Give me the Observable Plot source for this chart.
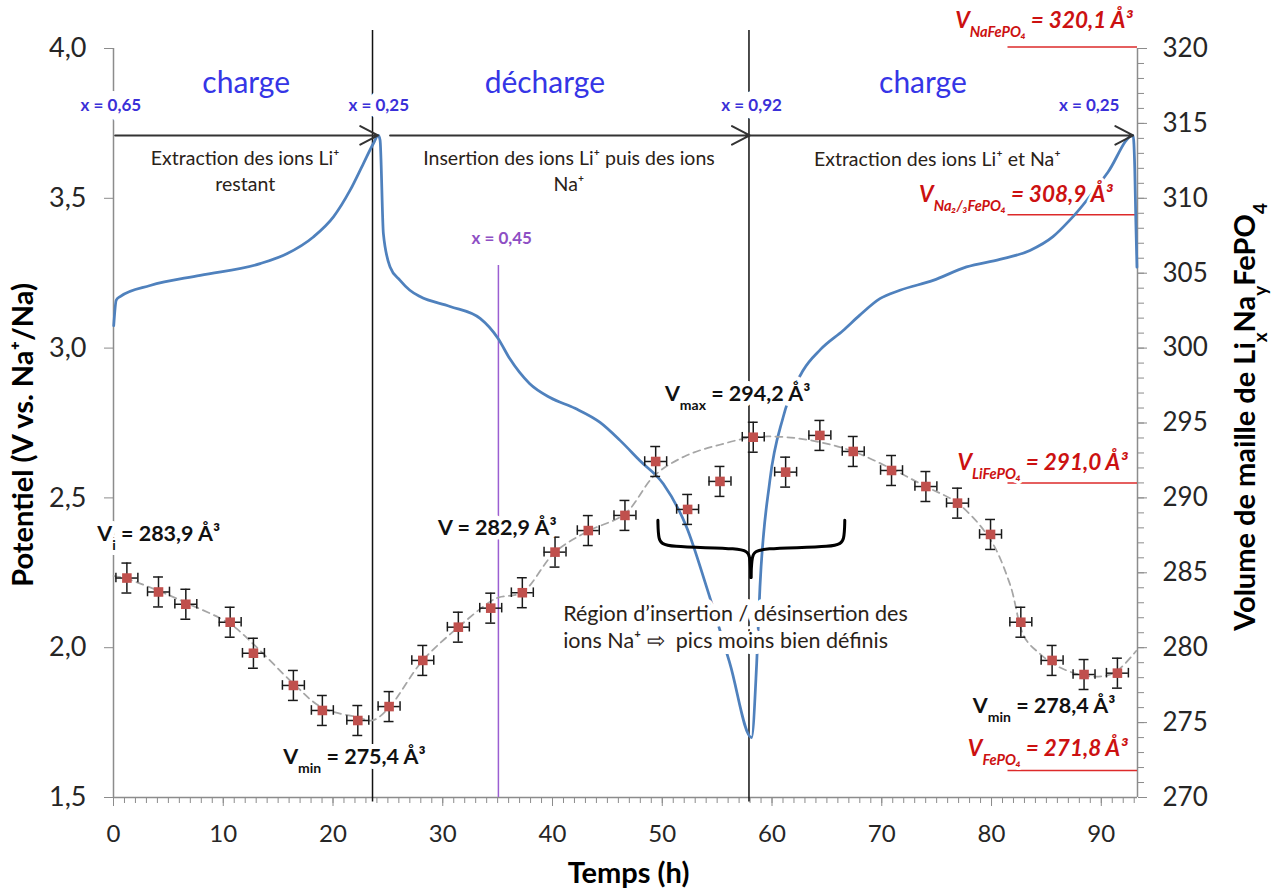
<!DOCTYPE html>
<html>
<head>
<meta charset="utf-8">
<script src="https://cdn.jsdelivr.net/npm/d3@7"></script>
<script src="https://cdn.jsdelivr.net/npm/@observablehq/plot@0.6"></script>
<style>
  body { margin: 0; background: #fff; }
  svg text { paint-order: stroke; stroke-linejoin: round; }
</style>
</head>
<body>
<div id="chart"></div>
<script>
// ---------------- data ----------------
// Galvanostatic potential curve (time in h, potential in V vs Na+/Na)
const potT = [0.02, 0.25, 0.6, 3.34, 7.9, 13.36, 15.79, 18.21, 20.04, 21.56, 22.77, 23.68, 24.13,
  24.29, 24.59, 25.2, 26.11, 27.0, 27.93, 30.66, 33.4, 35.04, 36.1, 37.9, 39.77, 42.05, 44.33, 46.15,
  47.97, 50.09, 52.22, 54.04, 56.17, 58.14, 58.6, 58.9, 59.8, 61.02, 62.84, 64.4, 66.48, 68.0, 69.83, 71.65,
  74.68, 77.72, 80.76, 83.5, 85.6, 87.13, 90.62, 92.9, 93.05, 93.15, 93.25];
const potP = [3.075, 3.16, 3.172, 3.209, 3.243, 3.282, 3.315, 3.371, 3.438, 3.527, 3.616, 3.683, 3.710,
  3.694, 3.382, 3.271, 3.226, 3.193, 3.172, 3.139, 3.099, 3.032, 2.965, 2.882, 2.835, 2.799, 2.752, 2.692,
  2.624, 2.547, 2.402, 2.202, 1.946, 1.70, 1.946, 2.202, 2.557, 2.770, 2.926, 2.995, 3.059, 3.11, 3.165, 3.193,
  3.226, 3.271, 3.296, 3.326, 3.372, 3.427, 3.588, 3.710, 3.60, 3.42, 3.27];

// Operando XRD cell volumes (time in h, volume in Å³)
const xrdT = [1.22, 4.1, 6.59, 10.63, 12.75, 16.39, 19.03, 22.26, 25.11, 28.18, 31.42, 34.37, 37.25,
  40.23, 43.26, 46.6, 49.4, 52.31, 55.26, 58.29, 61.24, 64.36, 67.4, 70.89, 74.02, 76.9, 79.91, 82.67,
  85.52, 88.43, 91.47];
const xrdV = [284.65, 283.72, 282.9, 281.7, 279.63, 277.48, 275.81, 275.14, 276.07, 279.15, 281.37,
  282.64, 283.67, 286.38, 287.82, 288.83, 292.43, 289.23, 291.1, 294.05, 291.72, 294.17, 293.1, 291.83,
  290.76, 289.65, 287.56, 281.7, 279.15, 278.21, 278.3];
const volErr = 1.0;   // Å³
const timeErr = 1.0;  // h

// Guide-to-the-eye (dashed) trend of the volume
const fitT = [0, 1.2, 4.1, 6.6, 10.6, 12.8, 16.4, 19.0, 22.3, 23.6, 25.1, 28.18, 31.42, 34.37, 35.15,
  37.25, 40.23, 43.3, 46.6, 49.3, 52.2, 55.25, 58.3, 61.3, 64.36, 67.4, 70.9, 74.0, 76.9, 79.85, 81.67,
  83.0, 84.4, 85.9, 88.4, 90.5, 91.5, 93.2];
const fitV = [284.8, 284.6, 283.8, 283.0, 281.6, 280.2, 277.6, 276.0, 275.35, 275.15, 276.0, 279.15,
  281.37, 283.1, 283.37, 283.7, 286.38, 287.8, 288.94, 291.5, 292.83, 293.55, 294.05, 294.05, 293.72,
  293.1, 291.94, 290.76, 289.65, 287.27, 284.26, 280.7, 279.6, 278.8, 278.14, 278.14, 278.48, 279.8];

// Reference volumes
const refVolumes = [320.1, 308.9, 291.0, 271.8];
const refLabels = ["V_{NaFePO₄} = 320,1 Å³", "V_{Na₂/₃FePO₄} = 308,9 Å³", "V_{LiFePO₄} = 291,0 Å³", "V_{FePO₄} = 271,8 Å³"];

// Ticks
const potTicks = [1.5, 2.0, 2.5, 3.0, 3.5, 4.0];
const volTicks = [270, 275, 280, 285, 290, 295, 300, 305, 310, 315, 320];
const volMinorTicks = d3.range(270, 321, 1);
const timeTicks = [0, 10, 20, 30, 40, 50, 60, 70, 80, 90];
const timeMinorTicks = d3.range(0, 94, 1);

// Step boundaries, marker and labels
const stepBounds = [23.6, 57.9];
const naMarker = [35.07];
const stepNames = ["charge", "décharge", "charge"];
const compLabels = ["x = 0,65", "x = 0,25", "x = 0,92", "x = 0,25"];
const processLabels = ["Extraction des ions Li⁺\nrestant", "Insertion des ions Li⁺ puis des ions\nNa⁺", "Extraction des ions Li⁺ et Na⁺"];
const valueLabels = ["V_{i} = 283,9 Å³", "V_{min} = 275,4 Å³", "V = 282,9 Å³", "V_{max} = 294,2 Å³", "V_{min} = 278,4 Å³"];
const regionLabel = "Région d’insertion / désinsertion des\nions Na⁺ ⇨  pics moins bien définis";

// ---------------- helpers / layout ----------------
const X_MAX = 93.3;
const toP = v => 1.5 + (v - 270) / 20;   // volume axis -> potential axis
const fromP = p => 270 + (p - 1.5) * 20;

const pot = potT.map((t, i) => ({t, p: potP[i]}));
const xrd = xrdT.map((t, i) => ({t, v: xrdV[i]}));
const fit = fitT.map((t, i) => ({t, v: fitV[i]}));
const refs = refVolumes.map((v, i) => ({v, label: refLabels[i]}));

const arrowY = 3.71;
const arrows = [{x1: 0.15, x2: 24.1}, {x1: 25.2, x2: 57.97}, {x1: 57.9, x2: 92.9}];
const stepPos = [{t: 12.09}, {t: 39.3}, {t: 73.75}].map((d, i) => ({...d, label: stepNames[i]}));
const compPos = [-0.24, 24.17, 58.14, 88.9].map((t, i) => ({t, label: compLabels[i]}));
const procPos = [[12.0, 3.594], [41.5, 3.594], [75.06, 3.637]].map(([t, p], i) => ({t, p, label: processLabels[i]}));
const valPos = [[-1.48, 2.378], [15.46, 1.636], [29.57, 2.40], [50.24, 2.847], [78.3, 1.805]].map(([t, p], i) => ({t, p, label: valueLabels[i]}));
const refPos = [[92.87, 4.092], [91.05, 3.512], [92.41, 2.616], [92.41, 1.664]].map(([t, p], i) => ({t, p, label: refLabels[i]}));
const braceL = [[49.6, 2.425], [49.64, 2.36], [50.1, 2.334], [57.6, 2.334], [58.0, 2.31], [58.08, 2.234]].map(([t, p]) => ({t, p}));
const braceR = [[66.63, 2.425], [66.59, 2.36], [66.1, 2.334], [58.6, 2.334], [58.16, 2.31], [58.08, 2.234]].map(([t, p]) => ({t, p}));

const AXIS = "#8c8c8c", TXT = "#262626", RED = "#cc1111";
const capT = 0.45, capP = 0.016;

const plot = Plot.plot({
  width: 1273, height: 895,
  marginLeft: 113, marginRight: 136, marginTop: 48, marginBottom: 98,
  x: {domain: [0, X_MAX], label: null},
  y: {domain: [1.5, 4.0], label: null},
  style: {fontFamily: "Lato, 'Open Sans', sans-serif", background: "#fff", overflow: "visible"},
  marks: [
    // axes
    Plot.axisY(potTicks, {anchor: "left", tickSize: 9, tickPadding: 18, fontSize: 27, stroke: AXIS, fill: TXT, label: null,
      tickFormat: d => d.toFixed(1).replace(".", ",")}),
    Plot.axisY(volMinorTicks.map(toP), {anchor: "right", tickSize: 6, stroke: AXIS, label: null, tickFormat: () => ""}),
    Plot.axisY(volTicks.map(toP), {anchor: "right", tickSize: 9, tickPadding: 16, fontSize: 26, stroke: AXIS, fill: TXT, label: null,
      tickFormat: p => String(Math.round(fromP(p)))}),
    Plot.axisX(timeMinorTicks, {tickSize: 6, stroke: AXIS, label: null, tickFormat: () => ""}),
    Plot.axisX(timeTicks, {tickSize: 9, tickPadding: 18, fontSize: 24, stroke: AXIS, fill: TXT, label: null}),
    Plot.ruleY([1.5], {x1: 0, x2: X_MAX, stroke: AXIS, strokeWidth: 1.5}),
    Plot.ruleX([0, X_MAX], {y1: 1.5, y2: 4.0, stroke: AXIS, strokeWidth: 1.5}),

    // step boundaries and marker
    Plot.ruleX(stepBounds, {y1: 1.485, y2: 4.06, stroke: "#111", strokeWidth: 1.5}),
    Plot.ruleX(naMarker, {y1: 1.5, y2: 3.276, stroke: "#9b5fd2", strokeWidth: 1.5}),

    // reference volumes
    Plot.ruleY(refs, {y: d => toP(d.v), x1: 81.5, x2: X_MAX, stroke: "#dd2a2a", strokeWidth: 1.5}),

    // potential curve
    Plot.line(pot, {x: "t", y: "p", stroke: "#4f81bd", strokeWidth: 2.75, curve: "monotone-x"}),

    // volume trend
    Plot.line(fit, {x: "t", y: d => toP(d.v), stroke: "#a6a6a6", strokeWidth: 1.75, strokeDasharray: "7,5", curve: "catmull-rom"}),

    // error bars
    Plot.ruleX(xrd, {x: "t", y1: d => toP(d.v - volErr), y2: d => toP(d.v + volErr), stroke: "#1a1a1a", strokeWidth: 1.5}),
    Plot.ruleY(xrd, {y: d => toP(d.v), x1: d => d.t - timeErr, x2: d => d.t + timeErr, stroke: "#1a1a1a", strokeWidth: 1.5}),
    Plot.ruleY(xrd, {y: d => toP(d.v + volErr), x1: d => d.t - capT, x2: d => d.t + capT, stroke: "#1a1a1a", strokeWidth: 1.5}),
    Plot.ruleY(xrd, {y: d => toP(d.v - volErr), x1: d => d.t - capT, x2: d => d.t + capT, stroke: "#1a1a1a", strokeWidth: 1.5}),
    Plot.ruleX(xrd, {x: d => d.t - timeErr, y1: d => toP(d.v) - capP, y2: d => toP(d.v) + capP, stroke: "#1a1a1a", strokeWidth: 1.5}),
    Plot.ruleX(xrd, {x: d => d.t + timeErr, y1: d => toP(d.v) - capP, y2: d => toP(d.v) + capP, stroke: "#1a1a1a", strokeWidth: 1.5}),
    Plot.dot(xrd, {x: "t", y: d => toP(d.v), symbol: "square", r: 5.4, fill: "#c0504d"}),

    // arrows
    Plot.arrow(arrows, {x1: "x1", x2: "x2", y1: arrowY, y2: arrowY, stroke: "#333", strokeWidth: 2, headLength: 15, headAngle: 55}),

    // brace
    Plot.line(braceL, {x: "t", y: "p", stroke: "#000", strokeWidth: 3, curve: "basis"}),
    Plot.line(braceR, {x: "t", y: "p", stroke: "#000", strokeWidth: 3, curve: "basis"}),

    // texts
    Plot.text(stepPos, {x: "t", y: 3.884, text: "label", fontSize: 30, fill: "#3535e6"}),
    Plot.text(compPos, {x: "t", y: 3.811, text: "label", fontSize: 17, fontWeight: "bold", fill: "#3a30d8", stroke: "#fff", strokeWidth: 16}),
    Plot.text(["x = 0,45"], {x: 35.37, y: 3.366, text: d => d, fontSize: 17, fontWeight: "bold", fill: "#8e4fc4"}),
    Plot.text(procPos, {x: "t", y: "p", text: "label", fontSize: 19.5, lineHeight: 1.33, fill: "#2a2218"}),
    Plot.text(valPos, {x: "t", y: "p", text: "label", textAnchor: "start", fontSize: 21.5, fontWeight: "bold", fill: "#111", stroke: "#fff", strokeWidth: 10}),
    Plot.text(refPos, {x: "t", y: "p", text: "label", textAnchor: "end", fontSize: 22.5, fontWeight: "bold", fontStyle: "italic", fill: RED, stroke: "#fff", strokeWidth: 6}),
    Plot.text([regionLabel], {x: 40.97, y: 2.072, text: d => d, textAnchor: "start", fontSize: 21.5, lineHeight: 1.25, fill: "#2a2218", stroke: "#fff", strokeWidth: 12}),

    // axis titles
    Plot.text(["Temps (h)"], {frameAnchor: "bottom", dx: 3, dy: 85, text: d => d, fontSize: 29, fontWeight: "bold", fill: "#000"}),
    Plot.text(["Potentiel (V vs. Na⁺/Na)"], {frameAnchor: "left", textAnchor: "middle", dx: -90, dy: 12, rotate: -90, text: d => d, fontSize: 29, fontWeight: "bold", fill: "#000"}),
    Plot.text(["Volume de maille de Li_{x}Na_{y}FePO_{4}"], {frameAnchor: "right", textAnchor: "middle", dx: 108, dy: -6, rotate: -90, text: d => d, fontSize: 29, fontWeight: "bold", fill: "#000"})
  ]
});

// Render simple sub/superscript markup (_{..} and ^{..}) as tspans
function richify(svg) {
  const NS = "http://www.w3.org/2000/svg";
  const mk = (s) => { const t = document.createElementNS(NS, "tspan"); t.textContent = s; return t; };
  svg.querySelectorAll("text").forEach(text => {
    const targets = text.querySelectorAll("tspan").length ? [...text.querySelectorAll("tspan")] : [text];
    targets.forEach(el => {
      const s = el.textContent;
      if (!/[_^]\{/.test(s)) return;
      el.textContent = "";
      const re = /([_^])\{([^}]*)\}/g;
      let last = 0, m;
      while ((m = re.exec(s))) {
        if (m.index > last) el.appendChild(mk(s.slice(last, m.index)));
        const ts = mk(m[2]);
        ts.setAttribute("font-size", "65%");
        ts.setAttribute("baseline-shift", m[1] === "_" ? "sub" : "super");
        el.appendChild(ts);
        last = re.lastIndex;
      }
      if (last < s.length) el.appendChild(mk(s.slice(last)));
    });
  });
}
richify(plot);
document.getElementById("chart").appendChild(plot);
</script>
</body>
</html>
